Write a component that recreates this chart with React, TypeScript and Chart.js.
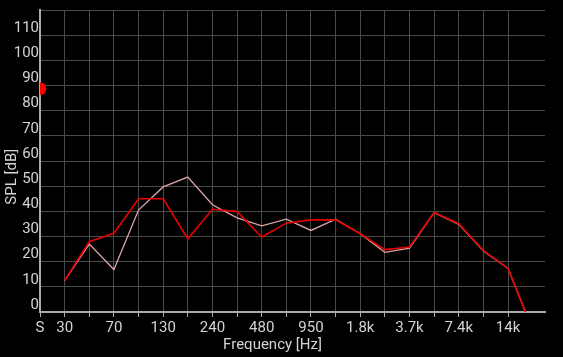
import React, { useEffect, useRef } from "react";
import { Chart, registerables } from "chart.js";

Chart.register(...registerables);

const xTickLabels = ["S", "30", "", "70", "", "130", "", "240", "", "480", "", "950", "", "1.8k", "", "3.7k", "", "7.4k", "", "14k", ""];
const bandIndex = [1, 2, 3, 4, 5, 6, 7, 8, 9, 10, 11, 12, 13, 14, 15, 16, 17, 18, 19, 20];
const redSeries = [12.5, 27.9, 31.3, 45, 45, 29.1, 40.8, 39.9, 29.8, 35.3, 36.6, 36.6, 31.1, 24.8, 25.8, 39.5, 35.1, 24.4, 17.3, -7.2];
const pinkSeries = [12.5, 27, 16.9, 40.5, 49.7, 53.6, 42.6, 37.4, 34.2, 36.9, 32.4, 36.9, 31.1, 23.7, 25.4, 39.5, 34.8, 24.2, 17.3, -7.2];
const markerX = [0];
const markerY = [88.7];
const xTitle = "Frequency [Hz]";
const yTitle = "SPL [dB]";

const FONT = "Roboto";
const TEXT = "#d4d4d4";

const titlePlugin = {
  id: "axisTitles",
  afterDraw(chart: any) {
    const ctx = chart.ctx;
    ctx.save();
    ctx.fillStyle = TEXT;
    ctx.font = `15px ${FONT}`;
    ctx.textAlign = "center";
    ctx.textBaseline = "alphabetic";
    ctx.fillText(xTitle, 272.5, 348.5);
    ctx.translate(16.3, 176.7);
    ctx.rotate(-Math.PI / 2);
    ctx.fillText(yTitle, 0, 0);
    ctx.restore();
  },
};

export default function App() {
  const ref = useRef<HTMLCanvasElement | null>(null);
  useEffect(() => {
    if (!ref.current) return;
    const chart = new Chart(ref.current, {
      type: "line",
      data: {
        datasets: [
          {
            data: bandIndex.map((x, i) => ({ x, y: redSeries[i] })),
            borderColor: "#e80000",
            borderWidth: 1.6,
            pointRadius: 0,
            tension: 0,
            clip: 0,
            order: 0,
          },
          {
            data: bandIndex.map((x, i) => ({ x, y: pinkSeries[i] })),
            borderColor: "#dba5a5",
            borderWidth: 1.3,
            pointRadius: 0,
            tension: 0,
            clip: 0,
            order: 1,
          },
          {
            data: markerX.map((x, i) => ({ x, y: markerY[i] })),
            borderColor: "#ff0000",
            backgroundColor: "#ff0000",
            showLine: false,
            pointRadius: 6.3,
            pointBorderWidth: 0,
            clip: 0,
            order: 0,
          },
        ],
      },
      options: {
        animation: false,
        responsive: false,
        maintainAspectRatio: false,
        layout: { padding: { top: 7, right: 18, left: 0, bottom: 0 } },
        plugins: { legend: { display: false }, tooltip: { enabled: false } },
        scales: {
          x: {
            type: "linear",
            min: 0,
            max: 20.5,
            afterBuildTicks: (scale: any) => {
              scale.ticks = scale.ticks.filter((t: any) => Number.isInteger(t.value));
            },
            afterFit: (scale: any) => {
              scale.height = 45;
            },
            ticks: {
              stepSize: 1,
              autoSkip: false,
              maxRotation: 0,
              color: TEXT,
              font: { family: FONT, size: 15 },
              padding: 2,
              callback: (v: any) => xTickLabels[v] ?? "",
            },
            grid: { color: "#4a4a4a", lineWidth: 1, tickLength: 5, tickColor: "#aaaaaa" },
            border: { color: "#aaaaaa", width: 2 },
          },
          y: {
            type: "linear",
            min: 0,
            max: 120,
            afterFit: (scale: any) => {
              scale.width = 40;
            },
            ticks: {
              stepSize: 10,
              color: TEXT,
              font: { family: FONT, size: 15 },
              padding: 1,
              labelOffset: -7,
              callback: (v: any) => (v >= 120 ? "" : String(v)),
            },
            grid: { color: "#4a4a4a", lineWidth: 1, drawTicks: false },
            border: { color: "#aaaaaa", width: 2 },
          },
        },
      },
      plugins: [titlePlugin],
    } as any);
    return () => chart.destroy();
  }, []);
  return (
    <div style={{ position: "fixed", left: 0, top: 0, width: 563, height: 357, background: "#000" }}>
      <canvas ref={ref} width={563} height={357} style={{ width: 563, height: 357 }} />
    </div>
  );
}
